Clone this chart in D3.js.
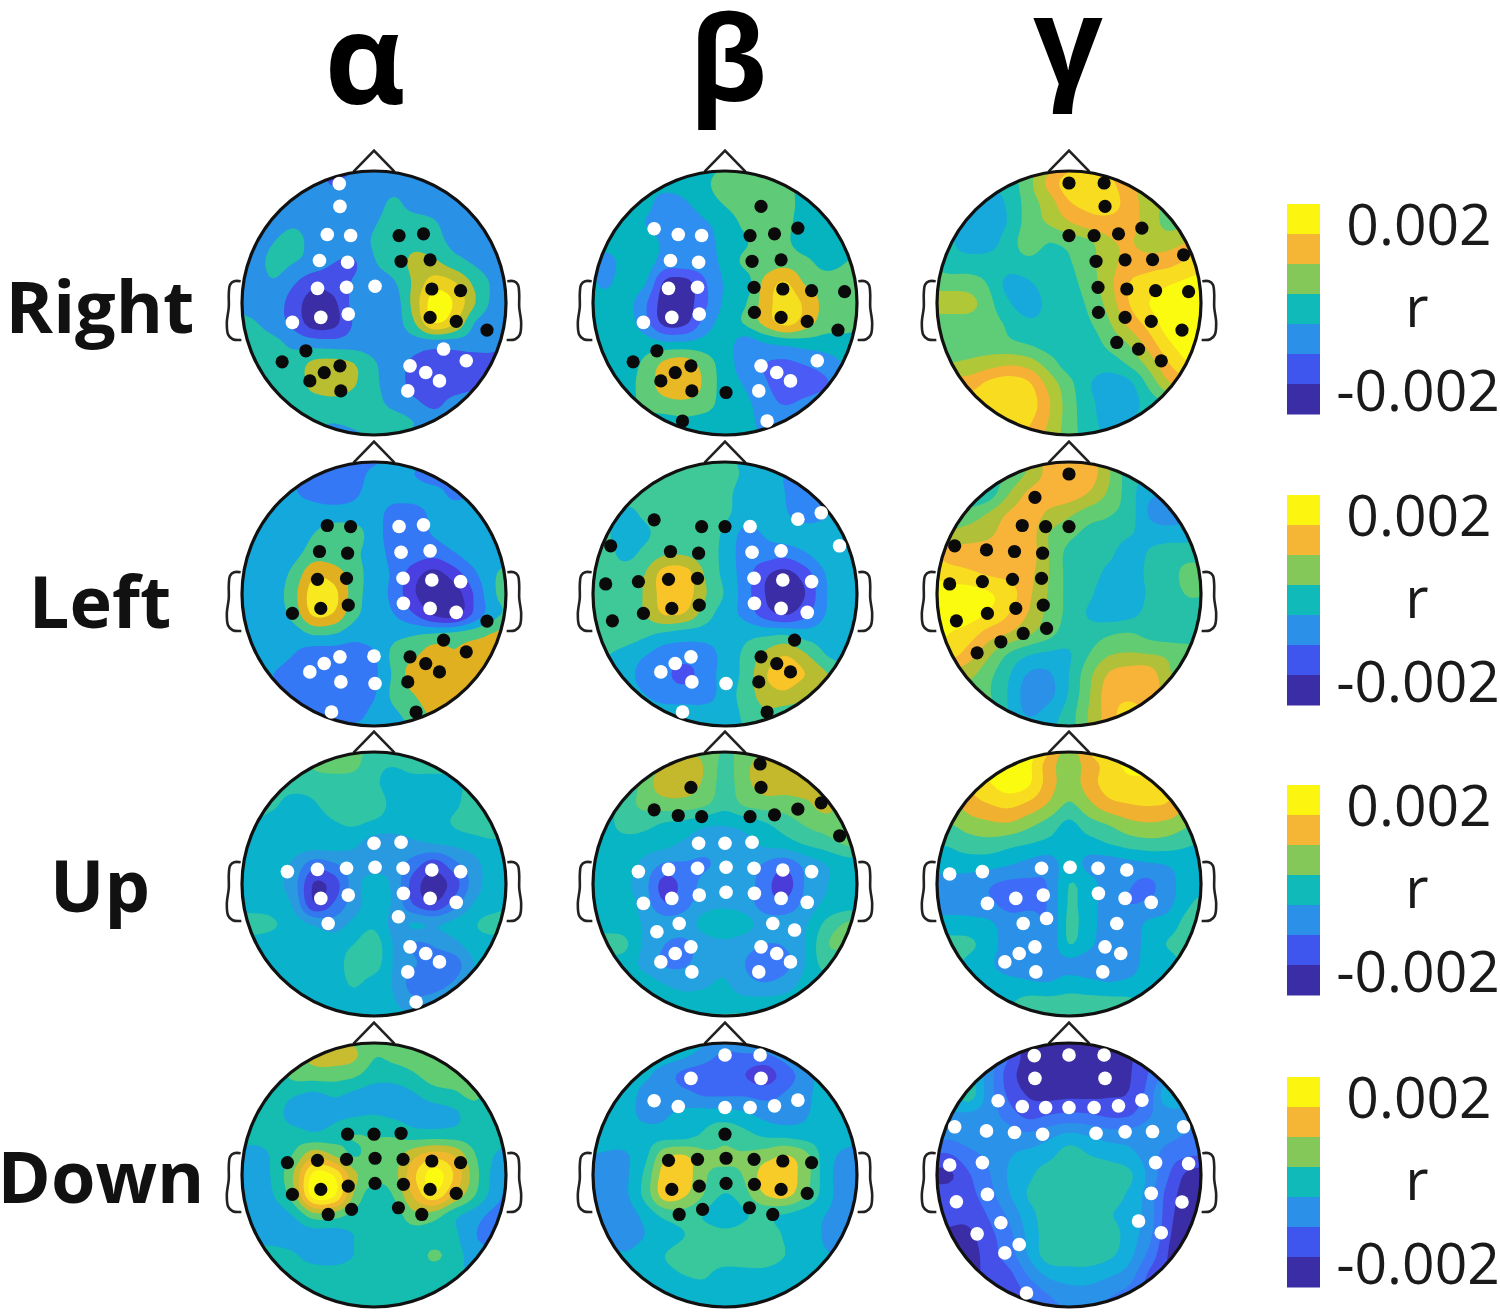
<!DOCTYPE html>
<html><head><meta charset="utf-8">
<script src="https://cdn.jsdelivr.net/npm/d3@7/dist/d3.min.js"></script>
<style>html,body{margin:0;background:#fff}svg{display:block;filter:blur(0.6px)}</style></head>
<body><svg id="c" width="1500" height="1313"></svg>
<script>
const bandTitles=["α","β","γ"];
const directions=["Right","Left","Up","Down"];
const barLabels=["0.002","r","-0.002"];
const barColors=["#fbf510","#f5b535","#85c85a","#10bab8","#2a90e8","#3e55ee","#3a2da5"];
// electrode montage, head radius = 1
const montage=[["Fp1",-.263,-.904],["Fpz",0,-.909],["Fp2",.266,-.909],["AF3",-.258,-.732],["AF4",.273,-.732],["AF8",.729,-.615],
["F7",-.537,-.562],["F5",-.354,-.519],["F3",-.177,-.511],["Fz",0,-.511],["F4",.19,-.511],["F6",.375,-.524],["F8",.552,-.567],
["FT7",-.866,-.365],["FC5",-.625,-.334],["FC3",-.413,-.322],["FC1",-.2,-.309],["FCz",0,-.309],["FC2",.205,-.316],["FC4",.425,-.327],["FC6",.633,-.329],["FT8",.868,-.365],
["T7",-.904,-.076],["C5",-.656,-.094],["C3",-.428,-.111],["C1",-.208,-.119],["Cz",.008,-.127],["C2",.22,-.119],["C4",.438,-.106],["C6",.656,-.094],["T8",.906,-.086],
["TP7",-.853,.203],["CP5",-.618,.147],["CP3",-.403,.109],["CP1",-.195,.084],["CPz",.008,.063],["CP2",.223,.071],["CP4",.425,.109],["CP6",.623,.139],["TP8",.856,.205],
["P7",-.696,.446],["P5",-.516,.362],["P3",-.347,.299],["P1",-.17,.261],["P2",.185,.248],["P4",.362,.299],["P6",.527,.349],["P8",.699,.438],
["PO7",-.486,.59],["PO5",-.377,.527],["PO3",-.258,.476],["POz",0,.471],["PO4",.273,.476],["PO6",.392,.527],["PO8",.496,.59],
["O1",-.251,.666],["Oz",.008,.678],["O2",.256,.666],["CB1",-.322,.894],["CB2",.319,.894]];
const earPoints=[[1.01,-.165],[1.06,-.165],[1.09,-.14],[1.1,-.07],[1.1,.03],[1.115,.15],[1.105,.24],[1.07,.275],[1.005,.28]];

const palAR=["#3a2da5","#4450e8","#2a92e6","#22c0a8","#b9bd30","#ecd020","#fbfb10"];
const palBR=["#3a2da5","#4a5cf5","#2e8ff0","#06b4c0","#5fcb78","#e8b825","#f5e020"];
const palGR=["#17a9dc","#18bfb2","#5fcd78","#b0c838","#f5b035","#f8dc20","#fbfb10"];
const palAL=["#3a2da5","#4a3fe0","#3478f5","#15a8dc","#48c888","#e0b020","#f8e820"];
const palBL=["#3a2da5","#4a50f0","#2f86f5","#12b0d4","#3fc898","#b8bc30","#f8c428"];
const palGL=["#2a90e8","#14aed8","#26c0a8","#62cc72","#b0c038","#f8b438","#f8dc20","#fbfb10"];
const palAU=["#3a2da5","#4349e0","#3478f0","#2a9ae0","#0bb2cc","#30c5a5","#62cc70"];
const palBU=["#4a3cd8","#3a78f8","#25a0e0","#08b5c5","#3ac69e","#6acc6c","#c4b82c"];
const palGU=["#3e6cf8","#2a90e8","#05b4cc","#3ac69e","#8ccc50","#f0b030","#f8dc20","#fbfb10"];
const palAD=["#3578f5","#1ba3e0","#15bcb0","#62cc72","#c8bc30","#f0b82c","#f8e420","#fbfb10"];
const palBD=["#4a3fd8","#3d68f5","#2a90e8","#09b4cc","#38c89c","#82cc60","#f8cc28"];
const palGD=["#3a2da5","#4450e8","#3a78f5","#2a92e8","#14aedc","#28c0a8"];

const fieldAR=[[2,2,2,2,2,1,1,2,2,2,2,2,2,2,2],
[2,2,2,2,2,1.4,2,2,2,2,2,2,2,2,2],
[2,2,2,2,2,2,2,2,2.7,2,2,2,2,2,2],
[2,2,2,2.3,2,2,2,2.4,3,3,2.6,2,2,2,2],
[2,2,2.5,3,2,2,2,2.6,3,3.3,3,2.2,2,2,2],
[2,2,2.8,2.5,2,1.5,1.4,2.4,3,3.7,3.7,3,2.4,2,2],
[2,2,2.4,1.6,.8,1,1.6,2,2.4,3.7,5,4.6,3.3,2.3,2],
[2,2,2,1,0,.3,1.8,2,2,3.9,6,5.4,3.6,2.2,2],
[3,2.6,2,1.2,0,.2,1.6,2,2,3.4,5.5,4.6,2.5,2,2],
[3,3,2.8,2.2,2,1.9,2,2,2,2,2,2,2,1.8,1],
[3,3,3,3,3.7,3.8,3.5,2.6,2,1.3,1,1,1,1.2,1],
[3,3,3,3,3.8,4,3.6,2.7,2,1.2,1,1,1.3,2,2],
[3,3,3,3,3.1,3.2,3,2.8,2.2,1.7,1.3,1.8,2,2,2],
[2,2,2,2,2.6,2.5,2.7,3,3,2.5,2,2,2,2,2],
[2,2,2,2,2,2,2,2.6,2.6,2,2,2,2,2,2]];
const fieldBR=[[3,3,3,3,3,3,3,3.5,4,4,3.5,3,3,3,3],
[3,3,3,3,3,3,3.3,4,4,4,3.8,3,3,3,3],
[3,3,3,2.9,2,2.4,3,3.6,4,4,4,3,3,3,3],
[3,3,3,2.5,2,2,2.4,3,3.7,4,3.8,3,3,3,3],
[3,2.8,3,3,2.3,2,2,3,3.4,4,3.7,3,3,3,3],
[3,2.2,2.8,3,2,2,2,2.8,3.7,4,4.2,3.8,3.2,3.5,4],
[3,2.3,3,2.6,.3,.1,1.4,2.6,3,4.8,5.6,4.4,4,4,4],
[3,3,3,1.7,0,0,1.3,2.7,3.4,5,6,5.3,4.2,4,4],
[3,3,3,1.9,.2,.3,1.9,3,3.6,4.8,5.8,5,4,4,3.6],
[3,3,3,3,2.7,2.7,2.9,3,2,2.5,2.8,3,3,3,3],
[3,3,3,3.7,4.7,5,4,3,2,1.5,1.3,1.6,2,2.6,3],
[3,3,3,4,4.9,5.2,4.3,3,2.4,1.6,1,1,1.4,2,2],
[3,3,3,3.8,4.2,4.3,4,3,2.7,2,1.4,1.8,2.2,3,3],
[3,3,3,3,3,3.2,3,3,2.9,2.2,2.6,3,3,3,3],
[3,3,3,3,3,3,3,3,3,2.5,3,3,3,3,3]];
const fieldGR=[[1,1,1,1,1,2,3,4,4.5,4,3,2,2,2,2],
[1,1,.8,.6,1,2.2,3.8,5,5,4.8,3.6,3,2.5,2.5,2.5],
[1,.4,.2,0,.7,2,3,4.4,4.8,5,4,3,2.2,2,2],
[1,.5,0,0,.6,2,2.6,3.4,4,4.1,3.9,3,2.2,2.5,2.5],
[1,.7,0,.1,1,2,1.5,1.8,2.3,3.3,3.6,3,3.1,3.6,4],
[1.5,1,1,1,1,1.2,1,1.4,2.2,3.1,3.9,4.1,4.2,4.8,5],
[2,2,1.9,1.4,.2,.4,1,1.2,2,3.2,4.5,4.9,5.4,5.7,6],
[3,3,2.9,1.8,.6,0,.8,1,1.7,2.9,4.5,5.5,6,6,6],
[2,2,2,1.9,1.3,.7,.8,1,1.4,2.4,3.8,4.9,6,6,6],
[2,2,2,2,1.7,1.4,1,1,1,1.8,2.6,4,5.4,6,6],
[2.5,2.5,2.7,3,3.3,3,2,1,1,1,1.7,2.9,4.5,5.5,6],
[4,4,4,4.7,5,4.6,3.1,1.8,.6,0,.3,1.8,3.4,4,4],
[5,5,5,5,5,5,3.6,2,.8,0,0,1,1.5,2,2],
[5,5,5,5,5,4.6,3.4,2,.9,.2,.5,1,1,1,1],
[5,5,5,5,4.5,4,3,2,1,.5,.5,1,1,1,1]];
const fieldAL=[[3,3,3,3,2.5,2,2,2,3,3,3,3,3,3,3],
[3,3,3,2.6,2,2,2,2.8,3,2.5,2,2.4,3,3,3],
[3,3,3,2.6,2.2,2,2.3,3,3,3,2.9,2.3,2.8,3,3],
[3,3,3,3,3,3,3,3,2,2,2.8,3,2.6,3,3],
[3,3,3,3,3.5,4,3.9,3,2,2,2.6,3,3,3,3],
[3,3,3,3.2,4,4,3.7,3,2.2,2,1.8,2.4,3,3,3],
[3,3,3,3.8,5.3,5,4,3,2.3,.9,.2,1,2.3,3.4,4],
[3,3,3,4.2,6,5.8,4,3,2.2,.6,0,0,1.6,3.4,4],
[3,3,3,3.9,5.7,5.4,3.8,3,2.5,1.5,.3,0,1.7,3.2,3.8],
[3,3,3,3,3.6,3.5,2.9,3,3.2,3.4,3.6,3.8,4.1,4.6,5],
[3,3,3,2.5,2,2,2,2.4,3.8,4.3,5,4.6,5,5,5],
[3,3,2.5,2,2,2,2,2.3,3.7,5,5,5,5,5,5],
[3,3,2.8,2,2,2,2,2.4,3.8,4.5,5,5,5,5,5],
[3,3,3,2.5,2,2,2.1,2.8,3.3,4,4.7,5,5,5,5],
[3,3,3,3,3,3,3,3,3,3.5,4,4,4,4,4]];
const fieldBL=[[4,4,4,4,4,4,4,4,3,3,3,3,3,3,3],
[4,4,4,4,4,4,4,4,3.3,3,2.5,2.6,3,3,3],
[4,4,4,4,4,4,4,3.8,3,3,2.5,2,2.6,3,3],
[4,4,3.2,3.7,4,4,4,3.7,3,3,2.6,2,2.4,3,3],
[4,3.7,3,3.3,4,4,4,3.3,2.2,2.6,3,3,3,3,3],
[4,4,3.2,3.8,4.4,4.4,4,3.2,2,2,1.8,2.4,3,3,3],
[4,4,4,4.5,6,6,4.4,3.2,2,.7,.2,1,2.5,3,3],
[4,4,4,4.6,6,6,4.6,3.4,2,.5,0,.5,2.4,3,3],
[4,4,4,4.5,5.6,5.4,4,3,2.2,1,.4,1.2,2.5,3,3],
[4,4,4,3.7,3.3,3,3,3,3.2,3.3,3.4,3,3,3,3],
[4,3.6,3.2,2.6,2,2,2,2.9,3.7,4.7,5.4,4.6,3.5,3,3],
[3,3,3,2,1.7,1.2,2,2.9,3.8,5.4,6,5.5,4.6,4,4],
[3,3,3,2.5,2,2,2,3,3.9,5,5.3,4.6,4,4,4],
[3,3,3,3,3,2.9,3,3,3.7,4.3,4,4,4,4,4],
[3,3,3,3,3,3,3,3,3.5,4,4,4,4,4,4]];
const fieldGL=[[1,1,1,2,3,3.5,5,5,5,3.5,2,2,2,2,2],
[2,2,2,2,2.7,3.7,4.8,5,5,3.6,2,1.5,1.5,2,2],
[2,2,1.6,2,3.5,4.7,5,5,4.4,3.3,2,.7,.8,2,2],
[2.5,2.5,2.9,3.6,4.6,5,4.3,3.7,3,2.6,2,.4,0,.5,1],
[4,3.8,4,4.3,5,5,3.5,2.8,2.2,2,1.6,1.1,1,1.2,2],
[5.5,5,5,5,5,5,3.5,2.2,2,1.7,1,1.6,2,2,2],
[6.5,6,5.7,5.4,5.2,4.8,3.5,2.2,2,1.2,1,1.7,2,3,3],
[7,7,7,6.6,6,4.7,3.4,2.2,1.7,.8,1,1.6,2,2.6,2.5],
[7,7,6.9,6.4,5.5,4.4,3.2,2.2,1.4,1,1.2,1.8,2,2,2],
[7,6.5,6,5,4.4,3.6,2.8,2,2,2.4,2.6,2.2,2,2,2],
[6,6,5,3.7,2.4,1.6,1.3,1.4,2.5,3.4,3.6,3.5,3.3,3,3],
[4,4,3.8,2.8,1.6,.4,.4,1.5,3.2,4.6,5,5,3.6,3,3],
[3,3,3,2.6,1.4,0,.2,1.6,3.4,5,5.2,5,4,3,3],
[3,3,3,3,1.5,.4,1,2,3.6,5,6,5,4,4,4],
[3,3,3,3,2,1.5,1.5,2,3.6,5,5.5,5,4,4,4]];
const fieldAU=[[5,5,5,5,5,6,6,5,5,5,5,5,5,5,5],
[5,5,5,5,5.6,6,5.8,4.8,4.6,5,5,5,5,5,5],
[5,5,5,5,5,5,5,4.7,4,4,4,4.2,5,5,5],
[5,5,4.7,4,4.4,5,5,5,4.2,4,4,4.3,5,5,5],
[4.6,4.5,4,4,4,4.4,4.6,4.3,4,4,4,4.6,5,5.2,5],
[4,4,4,4,4,4,3.7,3,3,3.3,3.5,3.7,4,4.3,4],
[4,4,4,3.3,2,2.4,3,3,3,2,1,2.2,3.2,4,4],
[4,4,3.8,2.9,.4,1,3,4,3.2,1,0,1,3,4,4],
[4,4,4,3.3,.6,1.6,3,4,3.3,1.4,.6,2,3.6,4,4.5],
[5,5,4.6,4,3.4,3,3.8,4.3,3.2,3.6,3.4,3.8,4.4,5,5],
[4,4,4,4.3,4,4,4.5,5,3.4,2.4,2.6,3.2,4,4,4],
[4,4,4,4,4,4,5,5,3.4,2.6,2,2,3.5,4,4],
[4,4,4,4,4,4,4.6,4,3.4,2,2,2.7,4,4,4],
[4,4,4,4,4,4,4,4,3.6,3,3.3,4,4,4,4],
[4,4,4,4,4,4,4,4,4,4,4,4,4,4,4]];
const fieldBU=[[4,4,4,4,5,5,5,4.5,4.6,5,5,5,5,5,5],
[4,4,4,4.6,5.7,6,5.4,4.2,5.2,6,5.8,5.2,5,5,5],
[3,3,3.5,5,6,6,5.3,4.1,5.2,6,6,6,5.4,5,5],
[3,3,4,4.8,5.1,5.1,4.7,3.9,4.7,5,5,5.3,5.8,5,5],
[3,3,4,3.8,3.4,3.2,2.7,2.6,2.9,3.4,4,4.6,5,5.3,5],
[3,3,3,3,2.8,2.3,1.9,1.9,2.2,2.7,3,3.6,4,4.6,5],
[3,3,3,2.2,1.4,1.4,1.4,1.8,2,1.4,.9,1.8,2.5,3,3],
[3,3,2.7,1.8,.1,.9,1.8,2,2,.9,0,1.6,2.4,3,3],
[3,3,3,2,.6,1.2,2.1,2.3,2,1,.8,1.8,2.7,3,3],
[3,3,3,2.4,2,2,2.9,3.2,2.9,2,2,2.4,3.7,4.6,5],
[4,4,3.7,2.3,1.5,1.3,2,2.3,1.9,1.5,1.6,2.5,4.3,5,5],
[3,3,3,2.2,1.4,1.4,2,2.3,1.5,.9,1.2,2.5,3.8,3,3],
[3,3,3,3,2.5,2.2,2.4,2.6,1.9,1.6,2,2.8,3,3,3],
[3,3,3,3,3,3,3,3,3,3,3,3,3,3,3],
[3,3,3,3,3,3.5,4,4,4,3.5,3,3,3,3,3]];
const fieldGU=[[7,7,7,7,7,7,6,4,6,7,7,7,7,7,7],
[6,6,6,7,7,6.7,5,4,5,6,6.8,7,6,6,6],
[5,5,5.6,6.4,7,6.6,5,4,5,6,6.2,6,5.7,5,5],
[4,4,5,5.5,5.8,5.3,4.4,3.4,4.3,5.2,5.5,5.6,5.4,4.4,4],
[3,3.4,4,4.3,4.4,3.8,3.1,2.3,3.1,3.6,4.2,4.4,4.2,3.6,3],
[2.5,2.6,3,3.1,2.8,2.5,2.2,2,2.1,2.5,2.9,3.1,3,2.6,2.4],
[2,2,2,1.9,1.6,1.2,1,2,1.2,1,1.2,1.4,1.6,2,2],
[1,1,1,.6,.3,.3,.6,2.5,1.9,1,.6,.3,1.2,2,2],
[1,1,1,.7,.2,.3,.6,2.6,1.9,1,.5,.7,1.3,2.4,3],
[2,2,1.9,1.7,1,1,.6,2.7,1.9,1,1,1.7,2,3,3.2],
[3,2.8,2.7,2,1,1,.8,2.5,1.7,1,1,1.9,2.6,3,3],
[3,3,2.2,1.7,1,1,1,1.2,1,1,1,2,2,3,3],
[2,2,2,2,1.9,1.7,1.6,2,1.8,1.6,1.8,2,2,2,2],
[2,2,2,2,2.4,3,3,3,3,3,2.8,2.4,2,2,2],
[3,3,3,3,3,3,3,3,3,3,3,3,3,3,3]];
const fieldAD=[[3,3,3,3,3,4,3,3,3,3,3,3,3,3,3],
[3,3,3,3,3.8,4,3.7,2.6,2.8,3,3,3,3,3,3],
[2,2,2,2.8,3,3,2.7,2,2,2.4,3,3,3,3,3],
[2,2,2,1.6,1.3,1.6,1.3,1,1,1.4,2,2.3,2.7,2,2],
[2,2,2,1,1,1.3,1.4,1.5,1.3,1,1,1.3,2,2,2],
[2,2,2,2,1.7,2,2.5,2.4,2.4,2,2,2,2,2,2],
[1.2,1,1.7,2.6,4.2,3.4,2.4,3,3,4.2,5,4.4,2.6,1.5,1],
[1,1,1.7,3.6,6.8,6.4,3.8,2.9,3.2,5.3,7,5.4,3,1.2,.7],
[1,1,1.5,3.2,7,6.7,3.4,2,2.6,4.7,6.2,4.4,2.6,1,0],
[1,1,1,1.6,3.1,3,2.2,2,2,3.2,3,1.8,1,.2,0],
[1,1,1,1,1,1,1.5,2,2,2,2,1.7,.6,0,0],
[2,2,1.9,1.6,1.1,1,1.5,2,2,2,2.65,2,1,1,1],
[2,2,2,2,2,2,2,2,2,2,2,1.7,1.5,2,2],
[2,2,2,2,2,2,2,2,2,2,2,2,2,2,2],
[2,2,2,2,2,2,2,2,1.6,1.4,2,2,2,2,2]];
const fieldBD=[[3,3,3,3,3,3,3,3,3,3,3,3,3,3,3],
[3,3,3,3,3,2.7,2,1.3,1.4,1.4,2,2.6,3,3,3],
[3,3,3,2.7,2,1.2,1,1,.5,0,1,2,3,3,3],
[3,3,3,2.2,2,1.8,1.4,1.4,1.4,1.2,1.6,2.2,3,3,3],
[3,3,3,2.2,2.4,2.8,3,3,2.7,2.2,2,2.4,3,3,3],
[3,3,3,3,3,3.1,3.7,4.2,3.8,3.3,3.2,3,3,2.9,2.7],
[2.6,2.4,2.4,3.2,5.2,5.5,4.7,4.6,4.6,5,5.5,4.8,3,2.3,2.2],
[2,2,2.3,3.7,6,6,4.6,4.3,4.6,6,6,5,3,2,2],
[2,2,2.3,3.8,6,5.6,4.4,3.4,4.2,5.5,5.8,4.6,3,2,2],
[2,2,2,2.8,3.8,4,3.4,2.5,3.4,3.7,3.4,3,2.5,2,2],
[2,2,2,2.5,3,3.5,4,4,4,4,3.4,3,2.4,2,2],
[3,3,2.6,3,3.5,4,4,4.2,4,4,3.5,3,2.6,2.4,2.4],
[3,3,3,3,3.2,3.5,3.6,3,3.2,3.2,3,3,3,3,3],
[3,3,3,3,3,3,3,3,3,3,3,3,3,3,3],
[3,3,3,3,3,3,3,3,3,3,3,3,3,3,3]];
const fieldGD=[[3,3,3,3,1,0,0,0,0,0,1,2,3,3,3],
[4,4,4,3,1.5,0,0,0,0,0,.4,1.5,3,3,3],
[5,5,4.6,3,1,0,0,0,0,0,.4,1.6,3,3.6,4],
[5,4,5,3,1.3,.4,.2,.3,.3,.4,.6,2,4.4,4,3.5],
[3.5,3.4,3.3,3,2,1.2,1.5,1.7,1.6,1.3,1.4,2.4,3,3,3],
[3,2.8,3,3,3,2.7,3.2,3.7,3.4,3,3,3,2.8,2.4,2.4],
[1.5,1.4,2.2,2.7,3.4,3.8,4.2,5,4.5,4.2,3.8,3,2,1.6,1.5],
[.3,.3,1.4,2.4,3.6,4.3,5,5,5,5,4.7,3.2,1.5,.2,0],
[1,1,1.2,2.1,3.4,4.6,5,5,5,5,4.3,3,1,0,0],
[1,.8,.8,1.6,2.7,4.1,5,5,5,4.6,4,3,.8,0,0],
[.5,.3,.3,1.2,2.2,3.8,5,5,5,5,4,2.8,.6,0,0],
[0,0,0,1,2,3.6,5,5,5,4.7,3.8,2.2,.4,0,0],
[0,0,0,.8,1.2,2.6,3.7,4,4,3.6,3,1.3,.4,.4,0],
[0,0,0,0,.8,1.6,2.5,3,3,2.6,2,1.2,1,1,1],
[0,0,0,0,1,1,2,2.5,2.5,2,1,1,1,1,1]];

const blackAR="F4 F6 FC2 FC4 C4 C6 CP4 CP6 TP8 P5 P7 PO3 PO5 PO7 O1".split(" ");
const whiteAR="Fp1 AF3 F5 F3 FC3 FC1 C3 C1 Cz CP3 CP1 CP5 P6 PO4 PO6 PO8 P8 O2".split(" ");
const blackBR="AF4 F4 F6 F8 FC2 FC4 C2 C4 C6 T8 CP2 CP4 CP6 TP8 P5 P7 PO3 PO5 PO7 O1 Oz CB1".split(" ");
const whiteBR="F7 F5 F3 FC3 FC1 C3 C1 CP3 CP1 CP5 PO4 PO6 PO8 P8 O2 CB2".split(" ");
const blackGR="Fpz Fp2 AF4 Fz F4 F6 F8 FC2 FC4 FC6 FT8 C2 C4 C6 T8 CP2 CP4 CP6 TP8 P4 P6 P8".split(" ");
const whiteGR=[];
const blackAL="F5 F3 FC3 FC1 C3 C1 CP3 CP1 CP5 TP8 P6 P8 PO4 PO6 PO8 O2 CB2".split(" ");
const whiteAL="F4 F6 FC2 FC4 C2 C4 C6 CP2 CP4 CP6 POz Oz PO3 PO5 PO7 O1 CB1".split(" ");
const blackBL="F7 F3 Fz FT7 FC3 FC1 T7 C5 C3 C1 TP7 CP5 CP3 CP1 P6 PO4 PO6 PO8 O2 CB2".split(" ");
const whiteBL="F4 F8 AF8 FT8 FC2 FC4 C2 C4 C6 CP2 CP4 CP6 PO3 PO5 PO7 O1 Oz CB1".split(" ");
const blackGL="Fpz AF3 F5 F3 Fz FT7 FC5 FC3 FC1 T7 C5 C3 C1 TP7 CP5 CP3 CP1 P7 P5 P3 P1".split(" ");
const whiteGL=[];
const blackAU=[];
const whiteAU="FCz FC2 C5 C3 C1 Cz C2 C4 C6 CP3 CP1 CP2 CP4 CP6 P3 P2 PO4 PO6 PO8 O2 CB2".split(" ");
const blackBU="Fp2 AF3 AF4 AF8 F7 F5 F3 F4 F6 F8 FT8".split(" ");
const whiteBU="FC1 FCz FC2 C5 C3 C1 Cz C2 C4 C6 CP5 CP3 CP1 CPz CP2 CP4 CP6 P5 P3 P4 P6 PO3 PO5 PO7 O1 PO4 PO6 PO8 O2".split(" ");
const blackGU=[];
const whiteGU="T7 C5 C1 Cz C2 C4 CP5 CP3 CP1 CP2 CP4 CP6 P3 P1 P4 PO3 PO5 PO7 O1 PO4 PO6 O2".split(" ");
const blackAD="FC1 FCz FC2 C5 C3 C1 Cz C2 C4 C6 CP5 CP3 CP1 CPz CP2 CP4 CP6 P3 P1 P2 P4".split(" ");
const whiteAD=[];
const blackBD="FCz C3 C1 Cz C2 C4 C6 CP3 CP1 CPz CP2 CP4 CP6 P3 P1 P2 P4".split(" ");
const whiteBD="Fpz Fp2 AF3 AF4 F7 F5 Fz F4 F6 F8".split(" ");
const blackGD=[];
const whiteGD="Fp1 Fpz Fp2 AF3 AF4 F7 F5 F3 Fz F4 F6 F8 FT7 FC5 FC3 FC1 FC2 FC4 FC6 FT8 T7 C5 C6 T8 TP7 CP5 CP6 TP8 P5 P7 P6 P8 PO7 PO5 CB1".split(" ");

const columnX=[374,725,1069], rowY=[303,594,884,1175], R=132;
const grid=[
 [[fieldAR,palAR,blackAR,whiteAR],[fieldBR,palBR,blackBR,whiteBR],[fieldGR,palGR,blackGR,whiteGR]],
 [[fieldAL,palAL,blackAL,whiteAL],[fieldBL,palBL,blackBL,whiteBL],[fieldGL,palGL,blackGL,whiteGL]],
 [[fieldAU,palAU,blackAU,whiteAU],[fieldBU,palBU,blackBU,whiteBU],[fieldGU,palGU,blackGU,whiteGU]],
 [[fieldAD,palAD,blackAD,whiteAD],[fieldBD,palBD,blackBD,whiteBD],[fieldGD,palGD,blackGD,whiteGD]]];

const svg=d3.select("#c");
const defs=svg.append("defs");
const font="'Open Sans',sans-serif";
const pos=new Map(montage.map(m=>[m[0],[m[1],m[2]]]));
const K=5;
function cr(p0,p1,p2,p3,t){return .5*(2*p1+(p2-p0)*t+(2*p0-5*p1+4*p2-p3)*t*t+(3*p1-p0-3*p2+p3)*t*t*t);}
function upsample(f){
  const n=f.length,N=(n-1)*K+1,out=new Array(N*N);
  const g=(j,i)=>f[Math.max(0,Math.min(n-1,j))][Math.max(0,Math.min(n-1,i))];
  for(let y=0;y<N;y++){const j=Math.floor(y/K),v=y/K-j;
    for(let x=0;x<N;x++){const i=Math.floor(x/K),u=x/K-i;
      const row=[-1,0,1,2].map(d=>cr(g(j+d,i-1),g(j+d,i),g(j+d,i+1),g(j+d,i+2),u));
      let val=cr(row[0],row[1],row[2],row[3],v);
      const c=[g(j,i),g(j,i+1),g(j+1,i),g(j+1,i+1)];
      val=Math.max(d3.min(c),Math.min(d3.max(c),val));
      out[y*N+x]=val;}}
  return {N,out};
}
function drawHead(g,sx,sy,cid,cell){
  const [field,pal,blacks,whites]=cell;
  const ear=d3.line().x(d=>sx(d[0])).y(d=>sy(d[1])).curve(d3.curveCatmullRom);
  [1,-1].forEach(s=>g.append("path").attr("d",ear(earPoints.map(p=>[s*p[0],p[1]]))).attr("fill","#fff").attr("stroke","#222").attr("stroke-width",2.6));
  g.append("path").attr("d",d3.line().x(d=>sx(d[0])).y(d=>sy(d[1]))([[-.155,-.995],[0,-1.155],[.155,-.995]])).attr("fill","#fff").attr("stroke","#222").attr("stroke-width",2.6);
  const {N,out}=upsample(field);
  const unit=sx(1)-sx(0);
  // grid nodes span +-420/395 of the head radius
  const gx=d=>sx(-420/395+(d-.5)/(N-1)*840/395), gy=d=>sy(-420/395+(d-.5)/(N-1)*840/395);
  const path=d3.geoPath(d3.geoTransform({point(x,y){this.stream.point(gx(x),gy(y));}}));
  const thresholds=pal.slice(1).map((_,k)=>k+.5);
  const layer=g.append("g").attr("clip-path",`url(#${cid})`);
  layer.append("circle").attr("cx",sx(0)).attr("cy",sy(0)).attr("r",unit).attr("fill",pal[0]);
  const cs=d3.contours().size([N,N]).smooth(true).thresholds(thresholds)(out);
  layer.selectAll("path").data(cs).join("path").attr("d",path).attr("fill",(d,i)=>pal[i+1]);
  g.append("circle").attr("cx",sx(0)).attr("cy",sy(0)).attr("r",unit).attr("fill","none").attr("stroke","#111").attr("stroke-width",3.2);
  g.selectAll("circle.b").data(blacks).join("circle").attr("class","b").attr("cx",d=>sx(pos.get(d)[0])).attr("cy",d=>sy(pos.get(d)[1])).attr("r",6.6).attr("fill","#0a0a0a");
  g.selectAll("circle.w").data(whites).join("circle").attr("class","w").attr("cx",d=>sx(pos.get(d)[0])).attr("cy",d=>sy(pos.get(d)[1])).attr("r",6.8).attr("fill","#fff");
}
grid.forEach((row,r)=>row.forEach((cell,c)=>{
  const cx=columnX[c],cy=rowY[r];
  const sx=d3.scaleLinear().domain([-1,1]).range([cx-R,cx+R]);
  const sy=d3.scaleLinear().domain([-1,1]).range([cy-R,cy+R]);
  const cid=`clip${r}${c}`;
  defs.append("clipPath").attr("id",cid).append("circle").attr("cx",cx).attr("cy",cy).attr("r",R);
  drawHead(svg.append("g"),sx,sy,cid,cell);
}));
// titles
const titleX=[365,728,1068],titleBase=[104,101,85],titleSize=[125,118,122];
svg.selectAll("text.t").data(bandTitles).join("text").attr("class","t").attr("x",(d,i)=>titleX[i]).attr("y",(d,i)=>titleBase[i]).attr("text-anchor","middle").attr("font-family",font).attr("font-weight",700).attr("font-size",(d,i)=>titleSize[i]).text(d=>d);
const labelX=[100,100,100,101],labelBase=[333,628,912,1203];
svg.selectAll("text.r").data(directions).join("text").attr("class","r").attr("x",(d,i)=>labelX[i]).attr("y",(d,i)=>labelBase[i]).attr("text-anchor","middle").attr("font-family",font).attr("font-weight",700).attr("font-size",72).attr("fill","#111").text(d=>d);
// colour bars
const barTop=[204,495,785,1077];
barTop.forEach(t=>{
  const y=d3.scaleBand().domain(d3.range(barColors.length)).range([t,t+210]);
  svg.append("g").selectAll("rect").data(barColors).join("rect").attr("x",1287).attr("width",33).attr("y",(d,i)=>y(i)).attr("height",y.bandwidth()+.5).attr("fill",d=>d);
  const ly=[t+41,t+123,t+207],lx=[1419,1417,1418];
  svg.append("g").selectAll("text").data(barLabels).join("text").attr("x",(d,i)=>lx[i]).attr("y",(d,i)=>ly[i]).attr("text-anchor","middle").attr("font-family",font).attr("font-size",57).attr("fill","#1a1a1a").text(d=>d);
});
</script></body></html>
